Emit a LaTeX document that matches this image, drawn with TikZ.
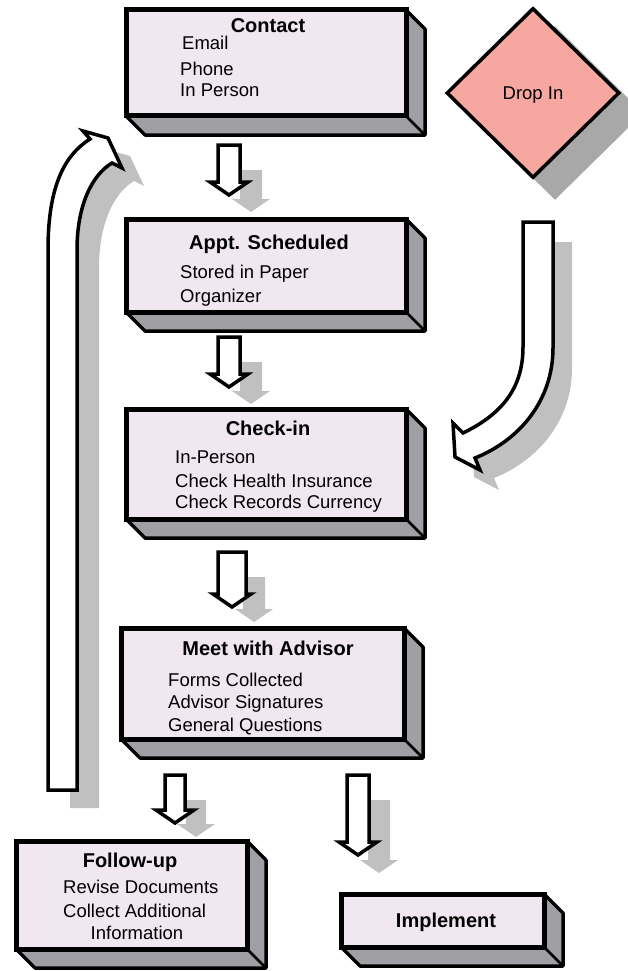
\documentclass[tikz,border=0pt]{standalone}
\usepackage{fontspec}
\setmainfont{Liberation Sans}
\usetikzlibrary{shapes.geometric,backgrounds}
\definecolor{face}{RGB}{240,231,240}
\definecolor{side}{RGB}{160,160,164}
\definecolor{arrowgray}{RGB}{192,192,192}
\definecolor{dropgray}{RGB}{168,168,168}
\definecolor{pinkfill}{RGB}{246,168,160}
\tikzset{
  front/.style={rectangle, draw=black, fill=face, line width=5pt, outer sep=0pt, inner sep=0pt},
  body/.style={fill=white, draw=black, line width=3.5pt, line join=miter},
  shadowfill/.style={fill=arrowgray},
  ttl/.style={anchor=base, inner sep=0pt, font=\fontsize{20}{24}\selectfont\bfseries},
  itm/.style={anchor=base west, inner sep=0pt, font=\fontsize{18.5}{22}\selectfont},
  itc/.style={anchor=base, inner sep=0pt, font=\fontsize{18.5}{22}\selectfont},
}
% cx, top, tip, half shaft, style
\newcommand\blkarrow[5]{%
  \path[#5] ({#1-#4},#2) -- ({#1+#4},#2) -- ({#1+#4},{#3-13}) -- ({#1+19},{#3-13}) -- (#1,#3)
    -- ({#1-19},{#3-13}) -- ({#1-#4},{#3-13}) -- cycle;}
\newcommand\extrude[1]{%
  \begin{pgfonlayer}{background}
  \filldraw[fill=side, draw=black, line width=3.5pt, line join=round]
    (#1.south west) -- ++(19,19) -- ([shift={(19,19)}]#1.south east)
    -- ([shift={(19,19)}]#1.north east) -- (#1.north east) -- cycle;
  \draw[line width=2.5pt] (#1.south east) -- ++(19,19);
  \end{pgfonlayer}}
\begin{document}
\begin{tikzpicture}[x=1pt, y=-1pt]
\useasboundingbox (0,0) rectangle (628,971);
\begin{pgfonlayer}{background}
\fill[white] (0,0) rectangle (628,971);
\end{pgfonlayer}

% ---- boxes (front faces)
\node[front, minimum width=280pt, minimum height=106pt] (contact) at (266,63) {};
\node[front, minimum width=280pt, minimum height=93pt] (appt) at (266,265.5) {};
\node[front, minimum width=280pt, minimum height=110pt] (checkin) at (266,464) {};
\node[front, minimum width=283pt, minimum height=111pt] (meet) at (262.5,683.5) {};
\node[front, minimum width=231pt, minimum height=108pt] (follow) at (131.5,895) {};
\node[front, minimum width=203pt, minimum height=53pt] (implement) at (442.5,920.5) {};
\extrude{contact}
\extrude{appt}
\extrude{checkin}
\extrude{meet}
\extrude{follow}
\extrude{implement}

% ---- drop in diamond
\node[diamond, draw=black, fill=pinkfill, line width=3.5pt, minimum width=173pt, minimum height=170pt,
      inner sep=0pt, text depth=0pt, font=\fontsize{18.5}{22}\selectfont] (dropin) at (533,93) {Drop In};
\begin{pgfonlayer}{background}
\fill[dropgray] ([shift={(22,20)}]dropin.north) -- ([shift={(22,20)}]dropin.east)
  -- ([shift={(22,20)}]dropin.south) -- ([shift={(22,20)}]dropin.west) -- cycle;
\end{pgfonlayer}

% ---- straight block arrows: shadows then bodies
\blkarrow{251}{170}{212}{11}{shadowfill}
\blkarrow{251}{362}{404}{11}{shadowfill}
\blkarrow{254}{577}{622}{11}{shadowfill}
\blkarrow{196}{800}{837}{10}{shadowfill}
\blkarrow{379}{800}{873}{11}{shadowfill}
\blkarrow{229}{145}{195}{11}{body}
\blkarrow{229}{337}{387}{11}{body}
\blkarrow{232}{552}{607}{14}{body}
\blkarrow{175}{775}{823}{10}{body}
\blkarrow{358}{775}{855}{11}{body}

% ---- curved return arrow (left)
\begin{scope}[shift={(22,18)}]
\fill[arrowgray] (48,790) -- (48,250) .. controls (48,185) and (65,155) .. (90,139) -- (83,131) -- (108,138)
  -- (122,168) -- (112,163) .. controls (92,175) and (77,205) .. (77,250) -- (77,790) -- cycle;
\end{scope}
\path[body] (48,790) -- (48,250) .. controls (48,185) and (65,155) .. (90,139) -- (83,131) -- (108,138)
  -- (122,168) -- (112,163) .. controls (92,175) and (77,205) .. (77,250) -- (77,790) -- cycle;

% ---- curved arrow from drop in
\begin{scope}[shift={(19,20)}]
\fill[arrowgray] (523,222) -- (553,222) -- (553,348) .. controls (553,400) and (520,440) .. (475,458)
  -- (480,470) -- (455,457) -- (453,423) -- (463,433) .. controls (500,415) and (523,390) .. (523,347) -- cycle;
\end{scope}
\path[body] (523,222) -- (553,222) -- (553,348) .. controls (553,400) and (520,440) .. (475,458)
  -- (480,470) -- (455,457) -- (453,423) -- (463,433) .. controls (500,415) and (523,390) .. (523,347) -- cycle;

% ---- texts
\node[ttl] (t1) at (268,33) {Contact};
\node[itm] (t1a) at (182,50) {Email};
\node[itm] (t1b) at (180,76) {Phone};
\node[itm] (t1c) at (180,97) {In Person};

\node[ttl] (t2) at (269,249) {Appt. Scheduled};
\node[itm] (t2a) at (180,278) {Stored in Paper};
\node[itm] (t2b) at (180,302) {Organizer};

\node[ttl] (t3) at (268,435) {Check-in};
\node[itm] (t3a) at (175,463) {In-Person};
\node[itm] (t3b) at (175,487) {Check Health Insurance};
\node[itm] (t3c) at (175,508) {Check Records Currency};

\node[ttl] (t4) at (268,655) {Meet with Advisor};
\node[itm] (t4a) at (168,686) {Forms Collected};
\node[itm] (t4b) at (168,708) {Advisor Signatures};
\node[itm] (t4c) at (168,731) {General Questions};

\node[ttl] (t5) at (130,867) {Follow-up};
\node[itm] (t5a) at (63,893) {Revise Documents};
\node[itm] (t5b) at (63,917) {Collect Additional};
\node[itc] (t5c) at (137,939) {Information};

\node[ttl] (t6) at (446,927) {Implement};
\end{tikzpicture}
\end{document}
